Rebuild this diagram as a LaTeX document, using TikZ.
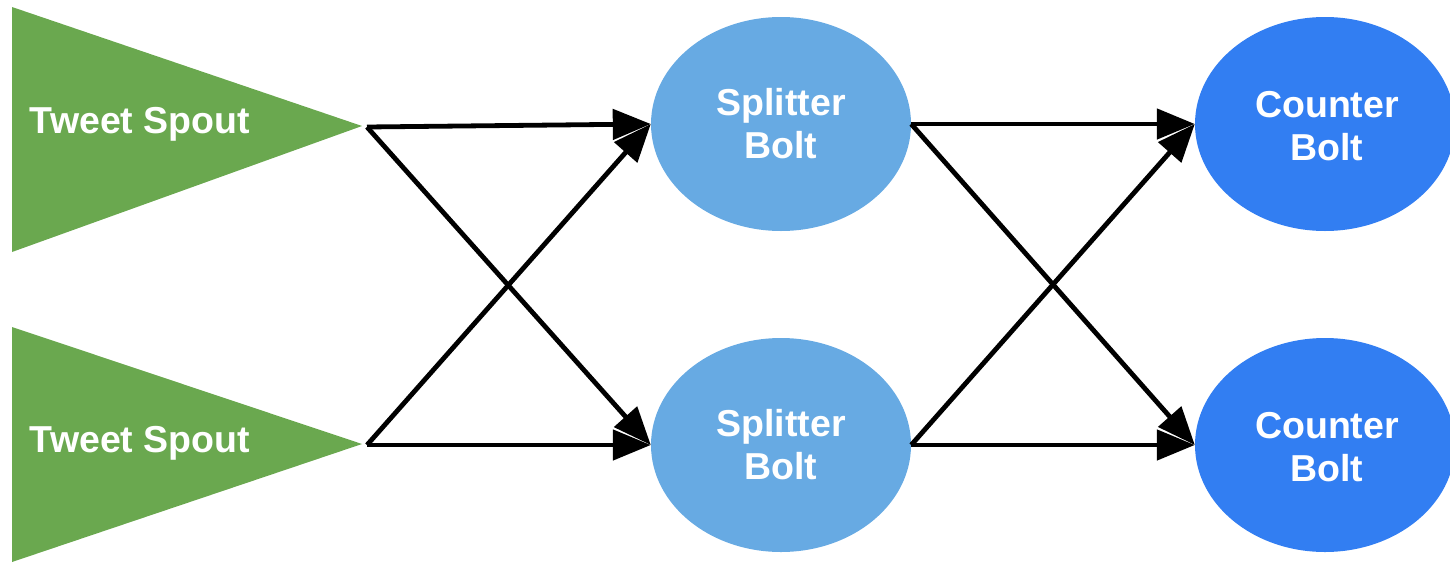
\documentclass[tikz,border=0pt]{standalone}
\usepackage{fontspec}
\setmainfont{Liberation Sans}
\usetikzlibrary{shapes.geometric,arrows.meta}
\definecolor{spoutgreen}{HTML}{6AA84F}
\definecolor{splitblue}{HTML}{67AAE3}
\definecolor{countblue}{HTML}{327EF2}
\tikzset{
  label text/.style={text=white,font=\fontsize{37.5}{43}\selectfont\bfseries,align=center,inner sep=0pt},
  bolt/.style={ellipse,minimum width=260pt,minimum height=214pt,inner sep=0pt,label text},
  splitter/.style={bolt,fill=splitblue},
  counter/.style={bolt,fill=countblue},
  flow/.style={line width=4.8pt,-{Triangle[length=38pt,width=30pt]}},
}
\begin{document}
\begin{tikzpicture}[x=1pt,y=-1pt]
\useasboundingbox (0,0) rectangle (1450,562);
\clip (0,0) rectangle (1450,562);
% spouts
\fill[spoutgreen] (12,7) -- (362,126) -- (12,252) -- cycle;
\fill[spoutgreen] (12,327) -- (362,444) -- (12,562) -- cycle;
\node[label text] (t1) at (140,124) {Tweet Spout};
\node[label text] (t2) at (140,443) {Tweet Spout};
\coordinate (sp1) at (367,127);
\coordinate (sp2) at (367,445);
% bolts
\node[splitter] (s1) at (781,124) {Splitter\\Bolt};
\node[splitter] (s2) at (781,445) {Splitter\\Bolt};
\node[counter] (c1) at (1325,124) {};
\node[counter] (c2) at (1325,445) {};
\node[label text] at (1327,126) {Counter\\Bolt};
\node[label text] at (1327,447) {Counter\\Bolt};
% streams
\draw[flow] (sp1) -- (s1.west);
\draw[flow] (sp1) -- (s2.west);
\draw[flow] (sp2) -- (s1.west);
\draw[flow] (sp2) -- (s2.west);
\draw[flow] (s1.east) -- (c1.west);
\draw[flow] (s1.east) -- (c2.west);
\draw[flow] (s2.east) -- (c1.west);
\draw[flow] (s2.east) -- (c2.west);
\end{tikzpicture}
\end{document}
